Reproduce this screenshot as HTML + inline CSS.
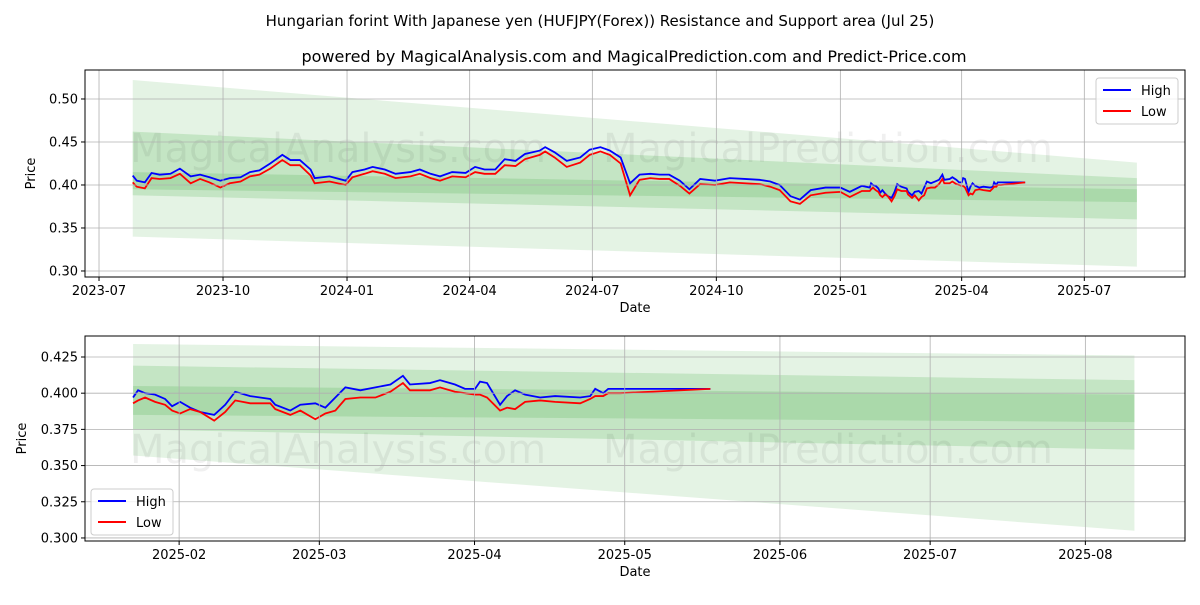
<!DOCTYPE html>
<html><head><meta charset="utf-8"><style>
body{margin:0;background:#fff;font-family:"Liberation Sans","DejaVu Sans",sans-serif}
svg text{font-family:"DejaVu Sans","Liberation Sans",sans-serif}
</style></head><body>
<svg id="chart" width="1200" height="600" viewBox="0 0 1200 600" xmlns="http://www.w3.org/2000/svg">
<rect width="1200" height="600" fill="#fff"/>
<text x="600" y="26" text-anchor="middle" font-size="15">Hungarian forint With Japanese yen (HUFJPY(Forex)) Resistance and Support area (Jul 25)</text>
<text x="634" y="62" text-anchor="middle" font-size="16">powered by MagicalAnalysis.com and MagicalPrediction.com and Predict-Price.com</text>
<g id="top"></g>
<g id="bottom"></g>
</svg>
<script>
// day offsets from 2023-07-01
const topDays=[25,28,34,39,45,53,60,68,75,82,90,97,105,112,119,127,136,142,149,157,160,171,183,188,197,203,212,220,231,238,246,253,262,272,279,286,294,301,309,316,327,331,338,347,357,364,372,379,387,394,401,409,416,423,431,438,446,457,468,479,490,498,505,513,520,528,539,550,557,566];
const topHigh=[0.411,0.405,0.403,0.414,0.412,0.413,0.419,0.410,0.412,0.409,0.405,0.408,0.409,0.415,0.417,0.425,0.435,0.429,0.429,0.418,0.408,0.410,0.405,0.415,0.418,0.421,0.418,0.413,0.415,0.418,0.413,0.410,0.415,0.414,0.421,0.418,0.418,0.430,0.428,0.436,0.440,0.444,0.438,0.428,0.432,0.441,0.444,0.440,0.432,0.402,0.412,0.413,0.412,0.412,0.405,0.395,0.407,0.405,0.408,0.407,0.406,0.404,0.400,0.387,0.383,0.394,0.397,0.397,0.392,0.399];
const topLow=[0.403,0.398,0.396,0.408,0.407,0.408,0.413,0.402,0.407,0.403,0.397,0.402,0.404,0.410,0.412,0.419,0.429,0.423,0.423,0.411,0.402,0.404,0.400,0.409,0.413,0.416,0.413,0.408,0.410,0.413,0.408,0.405,0.410,0.409,0.415,0.413,0.413,0.423,0.422,0.430,0.435,0.439,0.432,0.421,0.426,0.435,0.439,0.435,0.425,0.388,0.406,0.408,0.407,0.407,0.399,0.390,0.401,0.400,0.403,0.402,0.401,0.398,0.394,0.381,0.378,0.388,0.391,0.392,0.386,0.393];
const btmDays=[571.8,572.8,574.2,576.2,578.2,579.6,581.2,583.2,585.2,588,590.2,592.2,595.2,599.2,600.2,603.2,605.2,608.2,610.2,612.2,614.2,617.2,620.2,623.2,625.7,627.1,631.1,633.1,636.1,638.1,640.1,641.1,642.5,645.1,646.5,648.1,650.1,653.1,656.1,661.1,663.1,664.1,665.7,666.7,669.1,687.1];
const btmHigh=[0.397,0.402,0.400,0.399,0.396,0.391,0.394,0.390,0.387,0.385,0.392,0.401,0.398,0.396,0.392,0.388,0.392,0.393,0.390,0.397,0.404,0.402,0.404,0.406,0.412,0.406,0.407,0.409,0.406,0.403,0.403,0.408,0.407,0.392,0.398,0.402,0.399,0.397,0.398,0.397,0.398,0.403,0.400,0.403,0.403,0.403];
const btmLow=[0.393,0.395,0.397,0.394,0.392,0.388,0.386,0.389,0.387,0.381,0.387,0.395,0.393,0.393,0.389,0.385,0.388,0.382,0.386,0.388,0.396,0.397,0.397,0.401,0.407,0.402,0.402,0.404,0.401,0.400,0.399,0.399,0.397,0.388,0.390,0.389,0.394,0.395,0.394,0.393,0.396,0.398,0.398,0.400,0.400,0.403];
// bands: [startTop,endTop,startBottom,endBottom]
const topBands=[[0.522,0.426,0.340,0.305],[0.462,0.408,0.388,0.360],[0.415,0.395,0.395,0.380]];
const btmBands=[[0.434,0.426,0.357,0.305],[0.419,0.409,0.375,0.361],[0.405,0.399,0.385,0.380]];
const topTickDays=[0,92,184,275,366,458,550,640,731];
const topTickLabels=["2023-07","2023-10","2024-01","2024-04","2024-07","2024-10","2025-01","2025-04","2025-07"];
const btmTickDays=[581,609,640,670,701,731,762];
const btmTickLabels=["2025-02","2025-03","2025-04","2025-05","2025-06","2025-07","2025-08"];
const topYTicks=[0.30,0.35,0.40,0.45,0.50];
const btmYTicks=[0.300,0.325,0.350,0.375,0.400,0.425];

const NS="http://www.w3.org/2000/svg";
function mk(p,t,a){const e=document.createElementNS(NS,t);for(const k in a)e.setAttribute(k,a[k]);p.appendChild(e);return e;}
function panel(g,cfg){
  const {L,R,T,B,d0,d1,v0,v1}=cfg;
  const X=d=>L+(d-d0)/(d1-d0)*(R-L), Y=v=>B-(v-v0)/(v1-v0)*(B-T);
  const cid='clip'+g.id;
  const cp=mk(mk(g,'defs',{}),'clipPath',{id:cid});mk(cp,'rect',{x:L,y:T,width:R-L,height:B-T});
  const pl=mk(g,'g',{'clip-path':'url(#'+cid+')'});
  cfg.bands.forEach((b,i)=>{
    const p=mk(pl,'polygon',{points:[X(cfg.bs),Y(b[0]),X(cfg.be),Y(b[1]),X(cfg.be),Y(b[3]),X(cfg.bs),Y(b[2])].join(' '),fill:'#2ca02c','fill-opacity':i==0?0.13:0.17});
    
    
  });
  cfg.wm.forEach(w=>{const t=mk(pl,'text',{x:w[0],y:w[1],'font-size':40,fill:'#000','fill-opacity':0.06});t.textContent=w[2];
    
    });
  cfg.xt.forEach((d,i)=>{const x=X(d);mk(g,'line',{x1:x,x2:x,y1:T,y2:B,stroke:'#b0b0b0','stroke-width':0.8});
    mk(g,'line',{x1:x,x2:x,y1:B,y2:B+4,stroke:'#000'});
    const t=mk(g,'text',{x:x,y:B+18,'text-anchor':'middle','font-size':13});t.textContent=cfg.xl[i];
    
    });
  cfg.yt.forEach(v=>{const y=Y(v);mk(g,'line',{x1:L,x2:R,y1:y,y2:y,stroke:'#b0b0b0','stroke-width':0.8});
    mk(g,'line',{x1:L-4,x2:L,y1:y,y2:y,stroke:'#000'});
    const t=mk(g,'text',{x:L-7,y:y+4.5,'text-anchor':'end','font-size':13});t.textContent=v.toFixed(cfg.yd);
    
    });
  [[cfg.hi,'#0000ff','high-line'],[cfg.lo,'#ff0000','low-line']].forEach(s=>{
    const p=mk(pl,'polyline',{points:cfg.days.map((d,i)=>X(d)+','+Y(s[0][i])).join(' '),fill:'none',stroke:s[1],'stroke-width':1.8});
    
    });
  mk(g,'rect',{x:L,y:T,width:R-L,height:B-T,fill:'none',stroke:'#000','stroke-width':1});
  const xl=mk(g,'text',{x:(L+R)/2,y:B+35,'text-anchor':'middle','font-size':13});xl.textContent='Date';
  
  const yl=mk(g,'text',{x:0,y:0,'text-anchor':'middle','font-size':13,transform:`translate(${cfg.ylx},${(T+B)/2}) rotate(-90)`});yl.textContent='Price';
  
  const lg=mk(g,'g',{});
  
  const [lx,ly]=cfg.leg;
  mk(lg,'rect',{x:lx,y:ly,width:82,height:46,rx:3,fill:'#fff','fill-opacity':0.8,stroke:'#ccc'});
  [['High','#0000ff'],['Low','#ff0000']].forEach((e,i)=>{const y=ly+12+i*21;
    mk(lg,'line',{x1:lx+7,x2:lx+35,y1:y,y2:y,stroke:e[1],'stroke-width':2});
    const t=mk(lg,'text',{x:lx+45,y:y+5,'font-size':13});t.textContent=e[0];
    });
}
panel(document.getElementById('top'),{L:85,R:1185,T:70,B:277,d0:-10.4,d1:805.7,v0:0.2930,v1:0.5337,
  bs:25,be:770,bands:topBands,days:topDays.concat(btmDays),hi:topHigh.concat(btmHigh),lo:topLow.concat(btmLow),
  xt:topTickDays,xl:topTickLabels,yt:topYTicks,yd:2,ylx:35,leg:[1096,78],
  wm:[[130,162,'MagicalAnalysis.com'],[603,162,'MagicalPrediction.com'],[130,313,'MagicalAnalysis.com'],[603,313,'MagicalPrediction.com']]});
panel(document.getElementById('bottom'),{L:85,R:1185,T:336,B:541,d0:562.2,d1:781.9,v0:0.2979,v1:0.4395,
  bs:571.8,be:771.8,bands:btmBands,days:btmDays,hi:btmHigh,lo:btmLow,
  xt:btmTickDays,xl:btmTickLabels,yt:btmYTicks,yd:3,ylx:26,leg:[91,489],
  wm:[[130,463,'MagicalAnalysis.com'],[603,463,'MagicalPrediction.com']]});
</script>
</body></html>
